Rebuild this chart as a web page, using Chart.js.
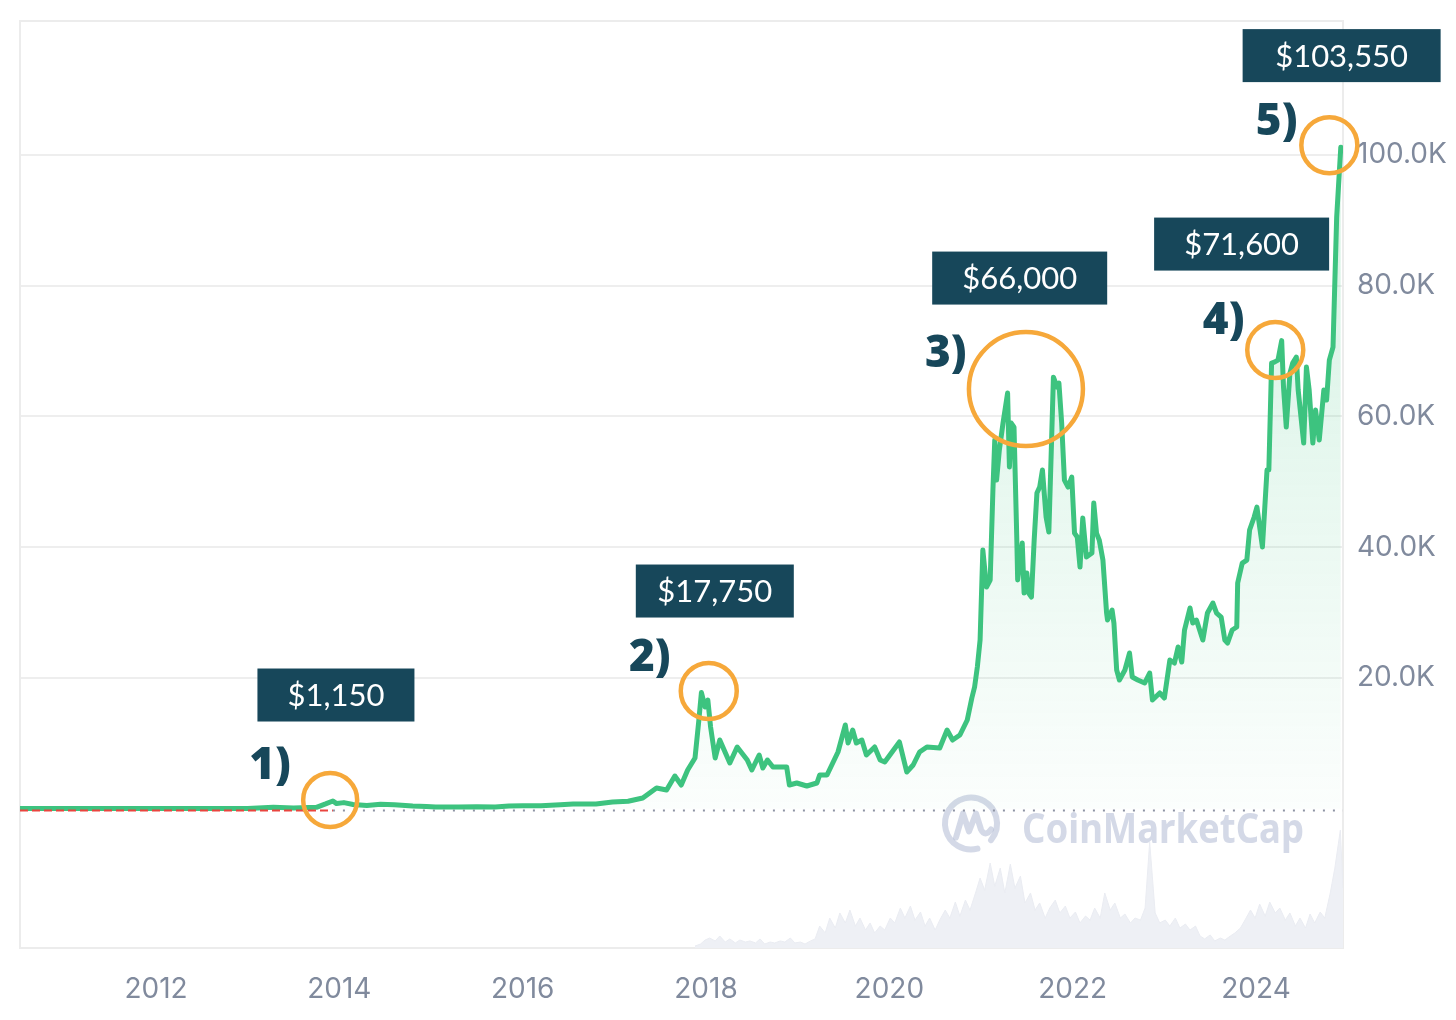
<!DOCTYPE html>
<html>
<head>
<meta charset="utf-8">
<script src="https://cdn.jsdelivr.net/npm/chart.js@4.4.1/dist/chart.umd.min.js"></script>
<style>
html,body{margin:0;padding:0;background:#ffffff;}
#wrap{width:1456px;height:1020px;position:relative;}
</style>
</head>
<body>
<div id="wrap"><canvas id="c" width="1456" height="1020"></canvas></div>
<script>
// ---------------- DATA ----------------
const priceYears = [
  2010.52, 2010.90, 2011.20, 2011.45, 2011.80, 2012.30, 2012.70, 2013.00, 2013.28, 2013.50,
  2013.75, 2013.85, 2013.93, 2013.97, 2014.05, 2014.15, 2014.30, 2014.45, 2014.60, 2014.80,
  2014.95, 2015.05, 2015.30, 2015.50, 2015.70, 2015.85, 2016.00, 2016.20, 2016.41, 2016.55,
  2016.80, 2016.98, 2017.15, 2017.31, 2017.46, 2017.57, 2017.66, 2017.73, 2017.80, 2017.88,
  2017.92, 2017.95, 2017.99, 2018.02, 2018.05, 2018.10, 2018.15, 2018.26, 2018.34, 2018.45,
  2018.50, 2018.58, 2018.62, 2018.67, 2018.73, 2018.88, 2018.91, 2018.99, 2019.10, 2019.21,
  2019.24, 2019.32, 2019.44, 2019.52, 2019.55, 2019.60, 2019.64, 2019.70, 2019.75, 2019.84,
  2019.90, 2019.95, 2020.11, 2020.19, 2020.26, 2020.33, 2020.41, 2020.55, 2020.63, 2020.69,
  2020.77, 2020.85, 2020.90, 2020.93, 2020.96, 2020.99, 2021.02, 2021.06, 2021.10, 2021.13,
  2021.15, 2021.17, 2021.20, 2021.24, 2021.29, 2021.31, 2021.33, 2021.36, 2021.39, 2021.40,
  2021.45, 2021.47, 2021.50, 2021.52, 2021.55, 2021.58, 2021.61, 2021.64, 2021.67, 2021.71,
  2021.74, 2021.77, 2021.79, 2021.83, 2021.85, 2021.88, 2021.91, 2021.95, 2021.99, 2022.02,
  2022.05, 2022.08, 2022.11, 2022.15, 2022.21, 2022.23, 2022.26, 2022.29, 2022.33, 2022.37,
  2022.38, 2022.43, 2022.45, 2022.48, 2022.51, 2022.57, 2022.62, 2022.65, 2022.71, 2022.785,
  2022.84, 2022.87, 2022.95, 2023.00, 2023.06, 2023.11, 2023.15, 2023.19, 2023.22, 2023.28,
  2023.31, 2023.35, 2023.42, 2023.47, 2023.53, 2023.57, 2023.62, 2023.66, 2023.69, 2023.74,
  2023.79, 2023.80, 2023.85, 2023.90, 2023.93, 2023.98, 2024.01, 2024.07, 2024.12, 2024.14,
  2024.17, 2024.20, 2024.24, 2024.28, 2024.30, 2024.33, 2024.37, 2024.40, 2024.44, 2024.46,
  2024.52, 2024.55, 2024.58, 2024.62, 2024.65, 2024.69, 2024.74, 2024.77, 2024.80, 2024.84,
  2024.88, 2024.925
];
const priceValues = [
  0.07, 0.2, 1, 17, 3, 5, 11, 14, 180, 90,
  180, 700, 1150, 750, 900, 620, 450, 640, 580, 380,
  320, 220, 240, 280, 240, 380, 430, 420, 560, 680,
  700, 995, 1100, 1600, 3137, 2830, 4972, 3595, 5890, 7726,
  13234, 17750, 15530, 16600, 12470, 7726, 10480, 6960, 9410, 7420,
  5890, 8185, 6200, 7420, 6350, 6350, 3595, 3900, 3440, 3900,
  5125, 5125, 8645, 12775, 10020, 12010, 10020, 10480, 8185, 9410,
  7420, 7110, 10175, 5585, 6655, 8645, 9410, 9255, 12010, 10480,
  11245, 13540, 16906, 18590, 21650, 25780, 39550, 33890, 34960, 48730,
  56380, 50260, 54850, 58980, 63570, 52250, 58980, 58370, 41540, 34960,
  40620, 32970, 36030, 32970, 32360, 41080, 48270, 49190, 51790, 44600,
  42300, 56380, 66000, 64490, 65100, 58980, 50260, 49190, 50720, 42150,
  41540, 36950, 44450, 38480, 39090, 46740, 42150, 41080, 38020, 29910,
  28840, 30370, 28380, 21190, 19660, 21190, 23790, 20120, 19660, 19200,
  20730, 16600, 17670, 16906, 22720, 22260, 24710, 22410, 27310, 30680,
  28380, 28840, 25780, 29910, 31440, 29910, 29300, 25780, 25320, 27310,
  27770, 34500, 37560, 38020, 42610, 44600, 46130, 40010, 51790, 51790,
  68160, 68310, 68620, 71600, 64490, 58370, 66630, 68160, 69080, 64030,
  55920, 67550, 64030, 55920, 60970, 56380, 64030, 62500, 68620, 70600,
  90500, 101200
];

// Daily trading volume (billions USD, estimated)
const volumeYears = [
  2017.88, 2017.94, 2017.99, 2018.04, 2018.10, 2018.15, 2018.21, 2018.26, 2018.32, 2018.37,
  2018.43, 2018.48, 2018.54, 2018.59, 2018.64, 2018.70, 2018.75, 2018.81, 2018.86, 2018.92,
  2018.97, 2019.03, 2019.08, 2019.14, 2019.19, 2019.24, 2019.30, 2019.35, 2019.41, 2019.46,
  2019.52, 2019.57, 2019.63, 2019.68, 2019.74, 2019.79, 2019.84, 2019.90, 2019.95, 2020.01,
  2020.06, 2020.12, 2020.17, 2020.23, 2020.28, 2020.34, 2020.39, 2020.44, 2020.50, 2020.55,
  2020.61, 2020.66, 2020.72, 2020.77, 2020.83, 2020.88, 2020.94, 2020.99, 2021.04, 2021.10,
  2021.15, 2021.21, 2021.26, 2021.32, 2021.37, 2021.43, 2021.48, 2021.54, 2021.59, 2021.64,
  2021.70, 2021.75, 2021.81, 2021.86, 2021.92, 2021.97, 2022.03, 2022.08, 2022.14, 2022.19,
  2022.24, 2022.30, 2022.35, 2022.41, 2022.46, 2022.52, 2022.57, 2022.63, 2022.68, 2022.74,
  2022.79, 2022.84, 2022.90, 2022.95, 2023.01, 2023.06, 2023.12, 2023.17, 2023.23, 2023.28,
  2023.34, 2023.39, 2023.44, 2023.50, 2023.55, 2023.61, 2023.66, 2023.72, 2023.77, 2023.83,
  2023.88, 2023.94, 2023.99, 2024.04, 2024.10, 2024.15, 2024.21, 2024.26, 2024.32, 2024.37,
  2024.43, 2024.48, 2024.54, 2024.59, 2024.64, 2024.70, 2024.75, 2024.81, 2024.86, 2024.92,
  2024.949
];
const volumeValues = [
  1.3, 2.6, 5.2, 6.5, 4.6, 7.8, 3.9, 5.9, 3.3, 5.2,
  3.9, 4.6, 3.3, 5.9, 2.6, 3.9, 3.3, 4.6, 3.9, 6.5,
  3.3, 3.9, 2.6, 4.6, 5.9, 14.3, 9.8, 19.5, 13.0, 22.8,
  16.3, 24.7, 14.3, 19.5, 11.7, 16.3, 9.8, 14.3, 11.7, 19.5,
  16.3, 26.0, 19.5, 27.3, 18.2, 23.4, 14.3, 19.5, 11.7, 18.2,
  24.7, 19.5, 29.9, 20.8, 31.2, 24.7, 35.8, 45.5, 37.7, 55.3,
  40.3, 52.0, 35.8, 54.6, 39.0, 46.8, 29.3, 35.8, 24.7, 29.3,
  19.5, 26.0, 31.2, 22.8, 27.3, 19.5, 23.4, 16.3, 20.8, 18.2,
  26.0, 19.5, 35.8, 24.7, 29.3, 19.5, 22.1, 16.3, 19.5, 18.2,
  26.0, 68.9, 22.8, 16.3, 18.2, 14.3, 19.5, 13.0, 15.6, 11.7,
  14.3, 7.8, 5.9, 8.5, 4.6, 6.5, 5.2, 7.8, 9.8, 13.0,
  18.2, 24.7, 19.5, 28.6, 20.8, 29.9, 22.8, 26.0, 18.2, 22.8,
  14.3, 19.5, 13.0, 22.1, 16.3, 23.4, 19.5, 35.8, 52.0, 76.7,
  39.0
];

const xTickYears = [2012, 2014, 2016, 2018, 2020, 2022, 2024];
const yTickValues = [20000, 40000, 60000, 80000, 100000];

// Callout annotations (peak labels)
const calloutLabels = ['$1,150', '$17,750', '$66,000', '$71,600', '$103,550'];
const calloutTags = ['1)', '2)', '3)', '4)', '5)'];

// ---------------- LAYOUT / STYLE CONFIG ----------------
const xMin = 2010.5164, xMax = 2024.949;
const yMin = -21347, yMax = 120505;
const volMax = 603;

const calloutLayout = [
  { circle: [2013.90, 1300, 27],   box: [2013.963, 17366, 157], tag: [2013.243, 6503] },
  { circle: [2018.03, 17980, 28],  box: [2018.096, 33278, 158], tag: [2017.387, 23027] },
  { circle: [2021.49, 64180, 57],  box: [2021.422, 81167, 175], tag: [2020.615, 69539] },
  { circle: [2024.21, 70150, 28],  box: [2023.843, 86369, 175], tag: [2023.647, 74588] },
  { circle: [2024.80, 101490, 28], box: [2024.934, 115209, 198], tag: [2024.225, 105034] }
];

const GREEN = '#3dc37f';
const LABEL_GRAY = '#808a9d';
const TEAL = '#17475a';
const ORANGE = '#f6a83a';
const TICK_FONT = { family: 'Inter, "Liberation Sans", Arial, sans-serif', size: 28 };

// ---------------- PLUGINS ----------------
const framePlugin = {
  id: 'frame',
  beforeDatasetsDraw(chart) {
    const { ctx, chartArea: a } = chart;
    ctx.save();
    ctx.strokeStyle = '#ececec';
    ctx.lineWidth = 2;
    ctx.strokeRect(a.left, a.top, a.right - a.left, a.bottom - a.top);
    ctx.restore();
  }
};

const watermarkPlugin = {
  id: 'watermark',
  beforeDatasetsDraw(chart) {
    const { ctx, chartArea: a, scales } = chart;
    const y0 = scales.y.getPixelForValue(0);
    const color = 'rgba(170,180,208,0.5)';
    const cx = a.right - 372, cy = y0 + 15;
    ctx.save();
    ctx.strokeStyle = color;
    ctx.lineWidth = 6;
    ctx.lineCap = 'round';
    ctx.lineJoin = 'round';
    ctx.beginPath();
    ctx.arc(cx, cy, 26, Math.PI * 0.42, Math.PI * 2.22);
    ctx.stroke();
    ctx.beginPath();
    ctx.moveTo(cx - 15, cy + 14);
    ctx.lineTo(cx - 8, cy - 10);
    ctx.lineTo(cx - 2, cy + 8);
    ctx.lineTo(cx + 5, cy - 10);
    ctx.lineTo(cx + 10, cy + 6);
    ctx.quadraticCurveTo(cx + 14, cy + 14, cx + 20, cy + 6);
    ctx.stroke();
    ctx.fillStyle = color;
    ctx.font = '700 42px "Noto Sans", "Open Sans", sans-serif';
    ctx.textBaseline = 'alphabetic';
    ctx.textAlign = 'left';
    ctx.fillText('CoinMarketCap', a.right - 321, y0 + 35, 282);
    ctx.restore();
  }
};

const baselinePlugin = {
  id: 'baseline',
  afterDatasetsDraw(chart) {
    const { ctx, chartArea: a, scales } = chart;
    const y0 = scales.y.getPixelForValue(0) + 2;
    const xSplit = scales.x.getPixelForValue(2013.93);
    ctx.save();
    ctx.lineWidth = 2;
    ctx.strokeStyle = '#e9453f';
    ctx.setLineDash([8, 4]);
    ctx.beginPath(); ctx.moveTo(a.left, y0); ctx.lineTo(xSplit, y0); ctx.stroke();
    ctx.strokeStyle = '#8d93a3';
    ctx.setLineDash([2, 8]);
    ctx.beginPath(); ctx.moveTo(xSplit, y0); ctx.lineTo(a.right, y0); ctx.stroke();
    ctx.restore();
  }
};

const calloutPlugin = {
  id: 'callouts',
  afterDraw(chart) {
    const { ctx, scales } = chart;
    const X = v => scales.x.getPixelForValue(v);
    const Y = v => scales.y.getPixelForValue(v);
    ctx.save();
    calloutLayout.forEach((c, i) => {
      ctx.strokeStyle = ORANGE;
      ctx.lineWidth = 4.5;
      ctx.beginPath();
      ctx.arc(X(c.circle[0]), Y(c.circle[1]), c.circle[2], 0, Math.PI * 2);
      ctx.stroke();
      const bx = X(c.box[0]), by = Y(c.box[1]), bw = c.box[2], bh = 53;
      ctx.fillStyle = TEAL;
      ctx.fillRect(bx - bw / 2, by - bh / 2, bw, bh);
      ctx.fillStyle = '#ffffff';
      ctx.font = '400 31px Lato, "Open Sans", sans-serif';
      ctx.textAlign = 'center';
      ctx.textBaseline = 'middle';
      ctx.fillText(calloutLabels[i], bx, by + 1);
      ctx.fillStyle = TEAL;
      ctx.font = '800 44px "Open Sans", Lato, sans-serif';
      ctx.fillText(calloutTags[i], X(c.tag[0]), Y(c.tag[1]));
    });
    ctx.restore();
  }
};

// ---------------- CHART ----------------
const priceData = priceYears.map((x, i) => ({ x, y: priceValues[i] }));
const volumeData = volumeYears.map((x, i) => ({ x, y: volumeValues[i] }));

new Chart(document.getElementById('c'), {
  type: 'line',
  data: {
    datasets: [
      {
        label: 'Price',
        data: priceData,
        xAxisID: 'x',
        yAxisID: 'y',
        borderColor: GREEN,
        borderWidth: 5,
        borderJoinStyle: 'round',
        borderCapStyle: 'round',
        pointRadius: 0,
        tension: 0,
        fill: 'origin',
        order: 0,
        backgroundColor: (context) => {
          const chart = context.chart;
          const { chartArea, scales } = chart;
          if (!chartArea) return 'rgba(61,195,127,0.1)';
          const y0 = scales.y.getPixelForValue(0);
          const g = chart.ctx.createLinearGradient(0, chartArea.top, 0, y0);
          g.addColorStop(0, 'rgba(61,195,127,0.28)');
          g.addColorStop(0.5, 'rgba(61,195,127,0.14)');
          g.addColorStop(1, 'rgba(61,195,127,0.02)');
          return g;
        }
      },
      {
        label: 'Volume',
        data: volumeData,
        xAxisID: 'x',
        yAxisID: 'yVol',
        borderColor: 'rgba(234,236,242,1)',
        borderWidth: 1,
        pointRadius: 0,
        tension: 0,
        fill: 'origin',
        backgroundColor: 'rgba(238,240,245,1)',
        order: 2
      }
    ]
  },
  options: {
    responsive: false,
    animation: false,
    devicePixelRatio: 1,
    layout: { padding: { left: 20, top: 21, right: 0, bottom: 0 } },
    plugins: { legend: { display: false }, tooltip: { enabled: false } },
    scales: {
      x: {
        type: 'linear',
        min: xMin,
        max: xMax,
        afterBuildTicks: (s) => { s.ticks = xTickYears.map(v => ({ value: v })); },
        afterFit: (s) => { s.height = 72; s.paddingLeft = 0; s.paddingRight = 0; },
        grid: { display: false, drawTicks: false },
        border: { display: true, color: '#ececec', width: 2 },
        ticks: {
          padding: 25,
          color: LABEL_GRAY,
          font: TICK_FONT,
          maxRotation: 0,
          autoSkip: false,
          callback: (v) => String(v)
        }
      },
      y: {
        type: 'linear',
        position: 'right',
        min: yMin,
        max: yMax,
        afterBuildTicks: (s) => { s.ticks = yTickValues.map(v => ({ value: v })); },
        afterFit: (s) => { s.width = 113; s.paddingTop = 0; s.paddingBottom = 0; },
        grid: { color: '#eeeeee', lineWidth: 2, drawTicks: false },
        border: { display: true, color: '#ececec', width: 2 },
        ticks: {
          padding: 14,
          color: LABEL_GRAY,
          font: TICK_FONT,
          callback: (v) => (v / 1000).toFixed(1) + 'K'
        }
      },
      yVol: {
        type: 'linear',
        display: false,
        min: 0,
        max: volMax
      }
    }
  },
  plugins: [framePlugin, watermarkPlugin, baselinePlugin, calloutPlugin]
});
</script>
</body>
</html>
